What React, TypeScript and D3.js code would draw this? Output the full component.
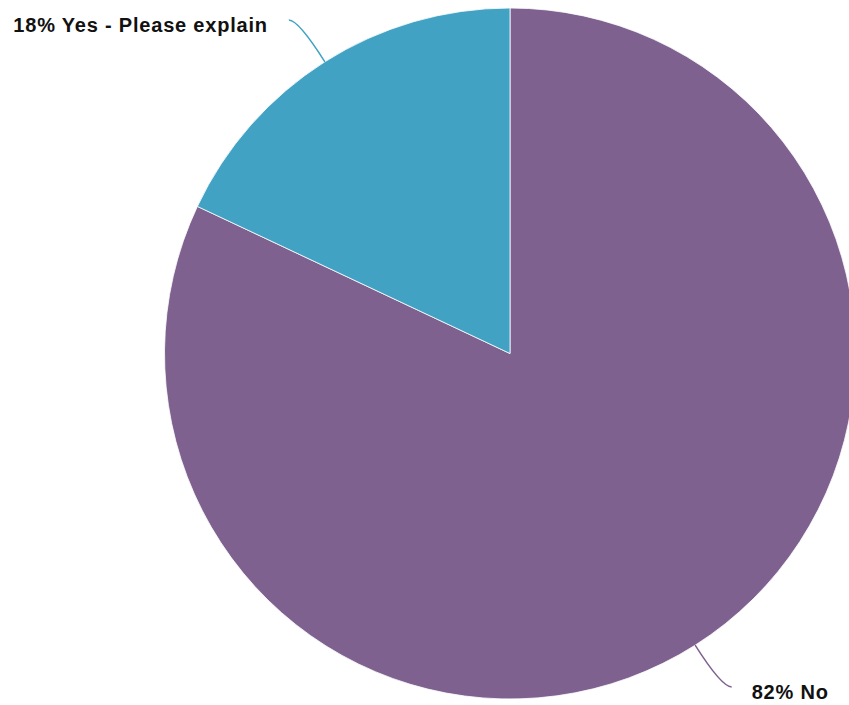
import React from "react";
import * as d3 from "d3";

const categories = ["No", "Yes - Please explain"];
const values = [82, 18];
const colors = ["#7e618f", "#41a2c3"];

const W = 849;
const H = 705;
const cx = 510;
const cy = 353.5;
const R = 345.5;

export default function App() {
  const pie = d3
    .pie<number>()
    .sort(null)
    .value((d) => d);
  const arcs = pie(values);
  const arcGen = d3.arc<d3.PieArcDatum<number>>().innerRadius(0).outerRadius(R);
  const total = d3.sum(values);

  return (
    <svg
      width={W}
      height={H}
      style={{ position: "absolute", left: 0, top: 0, display: "block" }}
    >
      <g transform={`translate(${cx},${cy})`}>
        {arcs.map((a, i) => (
          <path key={i} d={arcGen(a) || ""} fill={colors[i]} stroke="#ffffff" strokeWidth={0.8} />
        ))}
        {arcs.map((a, i) => {
          const mid = (a.startAngle + a.endAngle) / 2;
          const s = Math.sin(mid);
          const c = -Math.cos(mid);
          const sx = s * R;
          const sy = c * R;
          const kx = s * (R + 49.5);
          const ky = c * (R + 49.5);
          const right = s > 0;
          const ex = kx + (right ? 10 : -9.5);
          const ey = ky;
          const pct = Math.round((values[i] / total) * 100);
          return (
            <g key={"l" + i}>
              <path
                d={`M${sx},${sy}Q${kx},${ky} ${ex},${ey}`}
                fill="none"
                stroke={colors[i]}
                strokeWidth={1.5}
              />
              <text
                x={right ? ex + 20 : ex - 21}
                y={ey + 12}
                textAnchor={right ? "start" : "end"}
                fontFamily="'Liberation Sans', Arial, sans-serif"
                fontWeight="bold"
                fontSize={20}
                letterSpacing={0.8}
                fill="#111111"
              >
                {`${pct}% ${categories[i]}`}
              </text>
            </g>
          );
        })}
      </g>
    </svg>
  );
}
